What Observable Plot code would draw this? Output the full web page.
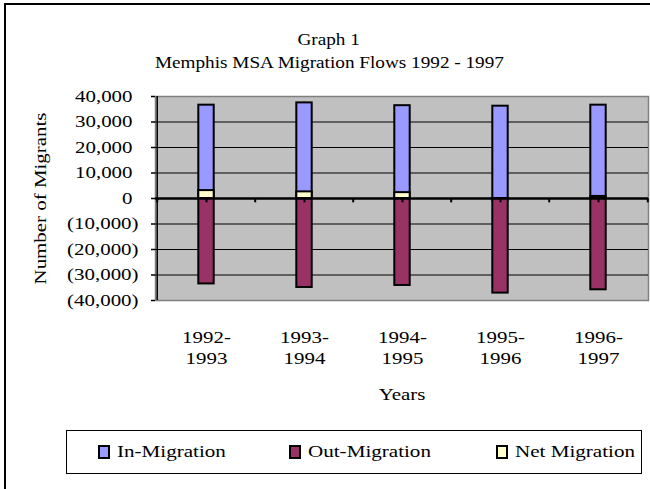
<!DOCTYPE html>
<html><head><meta charset="utf-8">
<script src="https://cdn.jsdelivr.net/npm/d3@7"></script>
<script src="https://cdn.jsdelivr.net/npm/@observablehq/plot@0.6"></script>
<style>
body{margin:0;background:#fff;}
#wrap{position:relative;width:650px;height:489px;overflow:hidden;font-family:"Liberation Serif","Times New Roman",serif;color:#000;}
#border{position:absolute;left:4px;top:3px;width:700px;height:600px;border:2px solid #000;box-sizing:border-box;}
.t{position:absolute;left:0;width:658px;text-align:center;font-size:17px;line-height:20px;}
.t span{display:inline-block;transform:scaleX(1.13);}
#legend{position:absolute;left:66px;top:430px;width:576px;height:44px;border:1px solid #000;box-sizing:border-box;}
.sw{position:absolute;top:14px;width:8px;height:10px;border:2px solid #000;}
.lt{position:absolute;top:11px;font-size:17px;line-height:20px;transform:scaleX(1.24);transform-origin:left center;white-space:nowrap;}
#plot{position:absolute;left:0;top:0;}
</style></head><body>
<div id="wrap">
<div id="border"></div>
<div class="t" style="top:30px"><span id="title"></span></div>
<div class="t" style="top:53px"><span id="subtitle"></span></div>
<div id="plot"></div>
<div id="legend"></div>
</div>
<script>
const titleText = "Graph 1";
const subtitleText = "Memphis MSA Migration Flows 1992 - 1997";
const years = ["1992-1993","1993-1994","1994-1995","1995-1996","1996-1997"];
const inMigration = [36600, 37500, 36400, 36200, 36600];
const outMigration = [-33500, -34900, -34100, -37100, -35800];
const netMigration = [3100, 2600, 2300, -900, 800];
const seriesNames = ["In-Migration", "Out-Migration", "Net Migration"];
const seriesColors = ["#9999ff", "#993366", "#ffffcc"];
const yTicks = [-40000, -30000, -20000, -10000, 0, 10000, 20000, 30000, 40000];
const yLabel = "Number of Migrants";
const xLabel = "Years";

document.getElementById("title").textContent = titleText;
document.getElementById("subtitle").textContent = subtitleText;

const W = 650, H = 420, mL = 155, mR = 2, mT = 96, mB = 120;
const step = (W - mL - mR) / years.length;
const barW = 16;
const inset = (step - barW) / 2;

const rows = s => years.map((y, i) => ({year: y, value: s[i]}));
const inRows = rows(inMigration), outRows = rows(outMigration), netRows = rows(netMigration);
const fmt = d3.format(",");
const barOpts = (fill) => ({x: "year", y: "value", fill, stroke: "#000", strokeWidth: 2, insetLeft: inset, insetRight: inset});

const plot = Plot.plot({
  width: W, height: H,
  marginLeft: mL, marginRight: mR, marginTop: mT, marginBottom: mB,
  style: {fontFamily: '"Liberation Serif","Times New Roman",serif', fontSize: "17px", background: "transparent", color: "#000", overflow: "visible"},
  x: {type: "band", domain: years, padding: 0},
  y: {domain: [-40000, 40000]},
  marks: [
    Plot.frame({fill: "#c0c0c0", stroke: "#808080", strokeWidth: 1.5}),
    Plot.ruleY(yTicks.filter(d => d !== 0 && Math.abs(d) !== 40000), {stroke: "#000", strokeWidth: 1}),
    Plot.rectY(inRows, barOpts(seriesColors[0])),
    Plot.rectY(netRows, barOpts(seriesColors[2])),
    Plot.rectY(outRows, barOpts(seriesColors[1])),
    Plot.ruleY([0], {stroke: "#000", strokeWidth: 2.5}),
    // category axis tick marks (at bar centres and at category boundaries)
    Plot.ruleX(years, {x: d => d, y1: 0, y2: -1700, stroke: "#000", strokeWidth: 2}),
    Plot.ruleX(years, {x: d => d, dx: -step / 2, y1: 0, y2: -1700, stroke: "#000", strokeWidth: 2}),
    Plot.ruleX(years.slice(-1), {x: d => d, dx: step / 2, y1: 0, y2: -1700, stroke: "#000", strokeWidth: 2}),
    // value axis line
    Plot.ruleX(years.slice(0, 1), {x: d => d, dx: -step / 2, y1: -40000, y2: 40000, stroke: "#000", strokeWidth: 1.5}),
    Plot.axisY(yTicks.filter(d => d >= 0), {tickSize: 4, tickPadding: 19, tickFormat: d => fmt(d), stroke: "#000", strokeWidth: 1.5, label: null}),
    Plot.axisY(yTicks.filter(d => d < 0), {tickSize: 4, tickPadding: 13, tickFormat: d => "(" + fmt(-d) + ")", stroke: "#000", strokeWidth: 1.5, label: null}),
    Plot.axisY([], {label: yLabel, labelAnchor: "center", labelOffset: 122, labelArrow: "none"}),
    Plot.axisX({tickSize: 0, tickPadding: 27, tickFormat: d => d.replace("-", "-\n"), lineHeight: 1.25, label: null}),
    Plot.axisX([], {label: xLabel, labelAnchor: "center", labelOffset: 99, labelArrow: "none"})
  ]
});
document.getElementById("plot").appendChild(plot);

// the reference renders its serif text wider than Times; widen glyphs along the text
const K = 1.23;
plot.querySelectorAll("text").forEach(t => {
  const spans = t.querySelectorAll("tspan");
  const targets = spans.length ? [...spans] : [t];
  targets.forEach(el => {
    const len = el.getComputedTextLength();
    if (len > 0) { el.setAttribute("textLength", len * K); el.setAttribute("lengthAdjust", "spacingAndGlyphs"); }
  });
});

// legend (positions relative to the legend box)
const swatchX = [31, 222, 429];
const legend = document.getElementById("legend");
seriesNames.forEach((name, i) => {
  const sw = document.createElement("div");
  sw.className = "sw";
  sw.style.left = swatchX[i] + "px";
  sw.style.background = seriesColors[i];
  const tx = document.createElement("div");
  tx.className = "lt";
  tx.style.left = (swatchX[i] + 19) + "px";
  tx.textContent = name;
  legend.appendChild(sw); legend.appendChild(tx);
});
</script>
</body></html>
